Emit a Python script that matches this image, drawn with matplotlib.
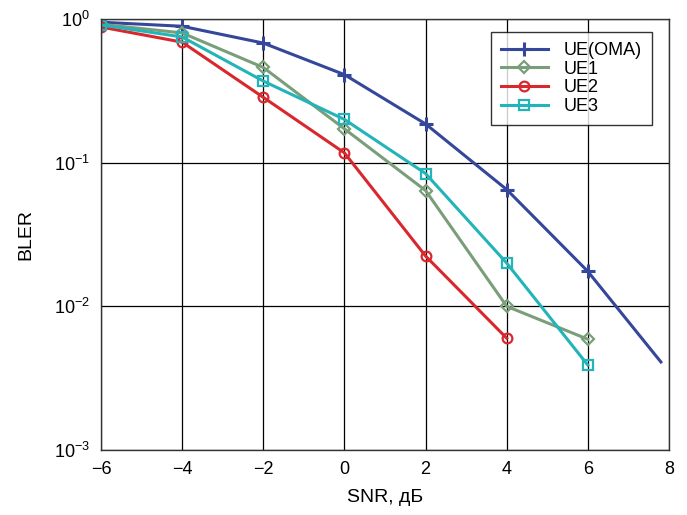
import matplotlib
matplotlib.use("Agg")
import matplotlib.pyplot as plt
from matplotlib.ticker import FixedLocator, NullLocator

plt.rcParams['font.family'] = ['Liberation Sans', 'DejaVu Sans']

snr = [-6, -4, -2, 0, 2, 4, 6, 7.8]
ue_oma = [0.95, 0.89, 0.68, 0.41, 0.186, 0.065, 0.0175, 0.0041]
snr1 = [-6, -4, -2, 0, 2, 4, 6]
ue1 = [0.92, 0.80, 0.46, 0.172, 0.064, 0.010, 0.0059]
snr2 = [-6, -4, -2, 0, 2, 4]
ue2 = [0.88, 0.69, 0.285, 0.117, 0.0224, 0.006]
snr3 = [-6, -4, -2, 0, 2, 4, 6]
ue3 = [0.91, 0.75, 0.37, 0.20, 0.084, 0.020, 0.0039]

xticks = [-6, -4, -2, 0, 2, 4, 6, 8]
xticklabels = ['\u22126', '\u22124', '\u22122', '0', '2', '4', '6', '8']

fig = plt.figure(figsize=(6.87, 5.15), dpi=100)
ax = fig.add_axes([0.147, 0.1262, 0.8268, 0.8369])

ax.plot(snr, ue_oma, color='#34479a', lw=2.2, marker='+', ms=10, mew=2.2,
        markevery=list(range(7)), label='UE(OMA)')
ax.plot(snr1, ue1, color='#7a9e7a', lw=2.2, marker='D', ms=6, mew=1.6,
        mfc='none', label='UE1')
ax.plot(snr2, ue2, color='#d8282e', lw=2.2, marker='o', ms=7, mew=1.6,
        mfc='none', label='UE2')
ax.plot(snr3, ue3, color='#22b4b8', lw=2.2, marker='s', ms=7, mew=1.6,
        mfc='none', label='UE3')

ax.set_yscale('log')
ax.set_xlim(-6, 8)
ax.set_ylim(1e-3, 1)
ax.set_xticks(xticks)
ax.set_xticklabels(xticklabels)
ax.yaxis.set_major_locator(FixedLocator([1e-3, 1e-2, 1e-1, 1]))
ax.yaxis.set_minor_locator(NullLocator())
ax.grid(True, which='major', color='black', lw=0.9)
ax.tick_params(axis='both', which='both', length=0, labelsize=13, pad=8)
for s in ax.spines.values():
    s.set_color('#333333')
    s.set_linewidth(1.0)

ax.set_xlabel('SNR, \u0434\u0411', fontsize=14, labelpad=8)
ax.set_ylabel('BLER', fontsize=14, labelpad=14)

leg = ax.legend(loc='upper right', bbox_to_anchor=(0.970, 0.970),
                borderaxespad=0, fontsize=13,
                frameon=True, fancybox=False, edgecolor='black',
                handlelength=2.6, handletextpad=0.9, borderpad=0.55,
                labelspacing=0.1)
leg.get_frame().set_linewidth(1.0)

fig.savefig('out.png', dpi=100)
